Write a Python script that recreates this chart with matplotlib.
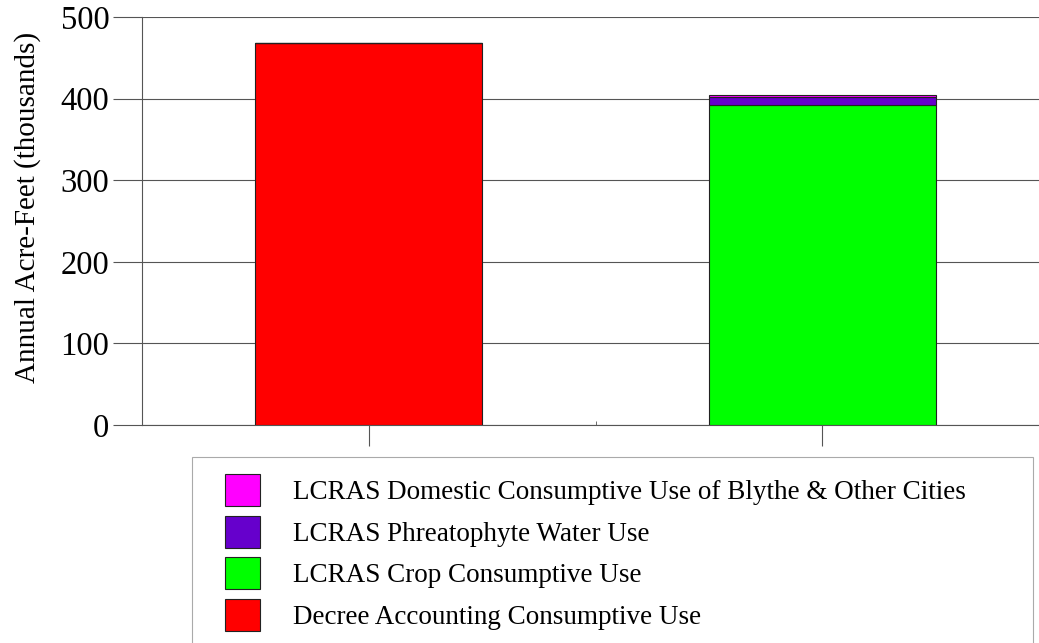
import matplotlib.pyplot as plt
from matplotlib.patches import Patch, Rectangle

plt.rcParams['font.family'] = ['Liberation Serif', 'DejaVu Serif']

# data (thousands of acre-feet)
categories = ['Decree Accounting', 'LCRAS']
decree_use = [468, 0]
crop_use = [0, 392]
phreatophyte_use = [0, 10]
domestic_use = [0, 2.5]

series_labels = ['LCRAS Domestic Consumptive Use of Blythe & Other Cities',
                 'LCRAS Phreatophyte Water Use',
                 'LCRAS Crop Consumptive Use',
                 'Decree Accounting Consumptive Use']
series_colors = ['#FF00FF', '#6600CC', '#00FF00', '#FF0000']

fig = plt.figure(figsize=(10.39, 6.43), dpi=100)
ax = fig.add_axes([142 / 1039, 1 - 425 / 643, 907 / 1039, 408 / 643])

x = list(range(len(categories)))
bottom = [0] * len(categories)
for vals, col in [(decree_use, series_colors[3]), (crop_use, series_colors[2]),
                  (phreatophyte_use, series_colors[1]), (domestic_use, series_colors[0])]:
    ax.bar(x, vals, width=0.5, bottom=bottom, color=col,
           edgecolor='#222222', linewidth=0.8, zorder=3)
    bottom = [b + v for b, v in zip(bottom, vals)]

ax.set_xlim(-0.5, 1.5)
ax.set_ylim(0, 500)
ax.set_yticks([0, 100, 200, 300, 400, 500])
ax.set_xticks(x)
ax.set_xticklabels([])
ax.set_xticks([0.5], minor=True)
ax.tick_params(axis='x', which='minor', length=3, direction='in', color='#555555')
ax.tick_params(axis='x', which='major', length=15, color='#555555', width=0.8)
ax.tick_params(axis='y', length=21, width=0.8, color='#555555', labelsize=23.5, pad=2.5)
ax.yaxis.grid(True, color='#555555', linewidth=0.8, zorder=0)
for s in ['top', 'right']:
    ax.spines[s].set_visible(False)
for s in ['left', 'bottom']:
    ax.spines[s].set_color('#555555')
    ax.spines[s].set_linewidth(0.8)
ax.set_ylabel('Annual Acre-Feet (thousands)', fontsize=21)
ax.yaxis.set_label_coords(-0.111, 0.534)

# legend frame
fig.patches.append(Rectangle((192 / 1039, -0.05), (1033 - 192) / 1039, 0.05 + 1 - 457 / 643,
                             transform=fig.transFigure, facecolor='white',
                             edgecolor='#aaaaaa', linewidth=0.8))
handles = [Patch(facecolor=c, edgecolor='#222222', linewidth=0.8) for c in series_colors]
fig.legend(handles, series_labels, loc='upper left',
           bbox_to_anchor=(225 / 1039, 1 - 474 / 643), frameon=False,
           fontsize=19.5, handlelength=1.3, handleheight=1.45, handletextpad=1.2,
           labelspacing=0.35, borderpad=0, borderaxespad=0)

fig.savefig('out.png', dpi=100)
